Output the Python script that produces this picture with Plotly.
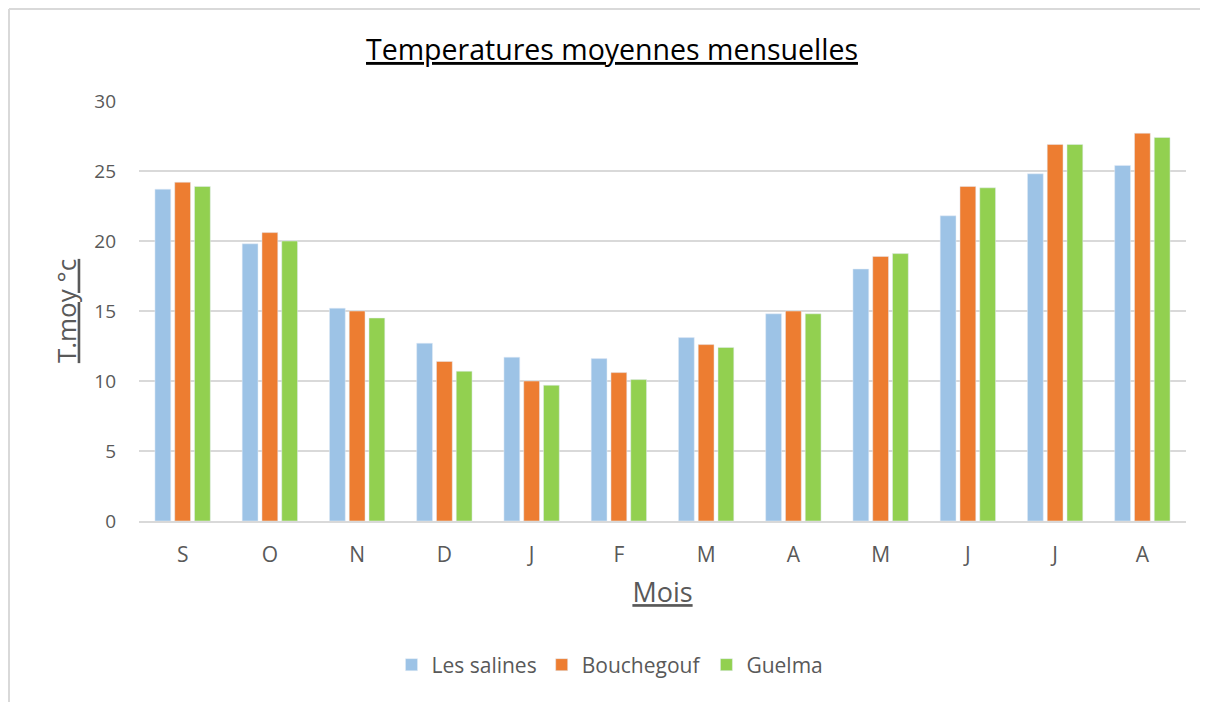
import plotly.graph_objects as go

mois = ["S", "O", "N", "D", "J", "F", "M", "A", "M", "J", "J", "A"]
les_salines = [23.7, 19.8, 15.2, 12.7, 11.7, 11.6, 13.1, 14.8, 18.0, 21.8, 24.8, 25.4]
bouchegouf = [24.2, 20.6, 15.0, 11.4, 10.0, 10.6, 12.6, 15.0, 18.9, 23.9, 26.9, 27.7]
guelma = [23.9, 20.0, 14.5, 10.7, 9.7, 10.1, 12.4, 14.8, 19.1, 23.8, 26.9, 27.4]

x_idx = list(range(len(mois)))
font_name = "Open Sans"
grey = "#595959"

# page body has an 8px margin, so the figure is 1200x694
W, H = 1200, 694
L, T, PW, PH = 131, 93, 1047, 420

fig = go.Figure()
fig.add_trace(go.Bar(x=x_idx, y=les_salines, name="Les salines", marker_color="#9DC3E6"))
fig.add_trace(go.Bar(x=x_idx, y=bouchegouf, name="Bouchegouf", marker_color="#ED7D31"))
fig.add_trace(go.Bar(x=x_idx, y=guelma, name="Guelma", marker_color="#92D050"))

fig.update_layout(
    width=W, height=H,
    margin=dict(l=L, r=W - L - PW, t=T, b=H - T - PH),
    paper_bgcolor="white", plot_bgcolor="white",
    barmode="group", bargap=0.32, bargroupgap=0.2,
    font=dict(family=font_name, color=grey),
    title=dict(text="<u>Temperatures moyennes mensuelles</u>", x=(612 - 8) / W, xanchor="center",
               xref="container", y=1 - 42 / H, yanchor="middle",
               font=dict(size=28.5, color="black", family=font_name)),
    legend=dict(orientation="h", x=(610 - 8) / W, xref="container", xanchor="center",
                y=(H - 657) / H, yref="container", yanchor="middle",
                font=dict(size=21, color=grey), itemwidth=30, traceorder="normal"),
    showlegend=True,
)
fig.update_xaxes(
    tickmode="array", tickvals=x_idx, ticktext=mois, range=[-0.5, 11.5],
    showgrid=False, showline=True, linecolor="#d9d9d9", linewidth=2,
    tickfont=dict(size=21, color=grey), ticks="", ticklabelstandoff=14,
    title=dict(text="<u>Mois</u>", font=dict(size=27, color=grey), standoff=16),
)
fig.update_yaxes(
    range=[0, 30], dtick=5, showgrid=True, gridcolor="#d9d9d9", gridwidth=2,
    zeroline=False, showline=False, tickfont=dict(size=19, color=grey),
    ticklabelstandoff=22,
    title=dict(text="<u>T.moy °c</u>", font=dict(size=26, color=grey), standoff=10),
)

# chart frame (left and top edges)
fx0 = (1 - L) / PW
fx1 = (W - L) / PW
fy0 = (T + PH - 1) / PH
fy1 = (T + PH - H) / PH
fig.add_shape(type="line", xref="paper", yref="paper", x0=fx0, x1=fx1, y0=fy0, y1=fy0,
              line=dict(color="#d9d9d9", width=2))
fig.add_shape(type="line", xref="paper", yref="paper", x0=fx0, x1=fx0, y0=fy0, y1=fy1,
              line=dict(color="#d9d9d9", width=2))

fig.write_html("out.html")
